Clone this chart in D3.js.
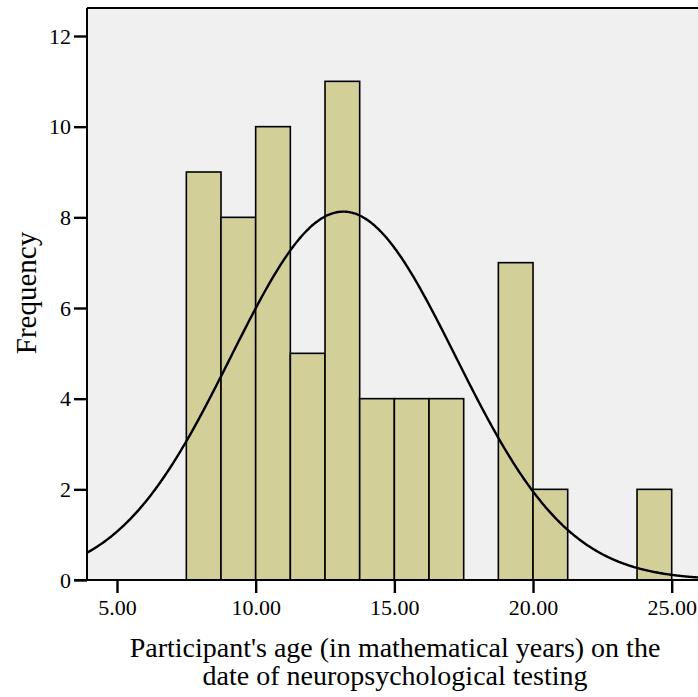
<!DOCTYPE html>
<html>
<head>
<meta charset="utf-8">
<script src="https://cdn.jsdelivr.net/npm/d3@7"></script>
<style>
  body { margin: 0; background: #ffffff; }
  svg { display: block; }
  text { font-family: "Liberation Serif", "Times New Roman", serif; fill: #000; }
</style>
</head>
<body>
<div id="chart"></div>
<script>
// Chart size
var svgWidth = 698;
var svgHeight = 697;

// Histogram bins (lower edge) and counts
var binStarts = [7.5, 8.75, 10.0, 11.25, 12.5, 13.75, 15.0, 16.25, 17.5, 18.75, 20.0, 21.25, 22.5, 23.75];
var binWidth = 1.25;
var counts = [9, 8, 10, 5, 11, 4, 4, 4, 0, 7, 2, 0, 0, 2];

// Normal curve parameters (as reported for the sample)
var meanAge = 13.16;
var sdAge = 4.05;
var nTotal = 66;

// Tick labels
var xTicks = [5, 10, 15, 20, 25];
var yTicks = [0, 2, 4, 6, 8, 10, 12];

var plot = { left: 87, top: 8, bottom: 580, right: 740 };

var svg = d3.select("#chart")
  .append("svg")
  .attr("width", svgWidth)
  .attr("height", svgHeight);

// Scales: 5.00 sits at x=117, 25.00 at x=672
var xScale = d3.scaleLinear()
  .domain([5, 25])
  .range([117, 671.7]);

var yScale = d3.scaleLinear()
  .domain([0, 12])
  .range([plot.bottom, 36]);

// Plot background
svg.append("rect")
  .attr("x", plot.left)
  .attr("y", plot.top)
  .attr("width", plot.right - plot.left)
  .attr("height", plot.bottom - plot.top)
  .attr("fill", "#f0f0f0");

// Bars
var bins = binStarts.map(function(b, i) {
  return { x0: b, x1: b + binWidth, n: counts[i] };
}).filter(function(d) { return d.n > 0; });

svg.append("g")
  .selectAll("rect")
  .data(bins)
  .enter()
  .append("rect")
  .attr("x", d => xScale(d.x0))
  .attr("y", d => yScale(d.n))
  .attr("width", d => xScale(d.x1) - xScale(d.x0))
  .attr("height", d => yScale(0) - yScale(d.n))
  .attr("fill", "#d3cf98")
  .attr("stroke", "#000")
  .attr("stroke-width", 1.6);

// Normal curve
var xLeft = xScale.invert(plot.left);
var xRight = xScale.invert(svgWidth + 5);
var curvePts = d3.range(xLeft, xRight, 0.05).map(function(v) {
  var z = (v - meanAge) / sdAge;
  var h = nTotal * binWidth / (sdAge * Math.sqrt(2 * Math.PI)) * Math.exp(-0.5 * z * z);
  return [v, h];
});

var line = d3.line()
  .x(d => xScale(d[0]))
  .y(d => yScale(d[1]))
  .curve(d3.curveBasis);

svg.append("path")
  .datum(curvePts)
  .attr("d", line)
  .attr("fill", "none")
  .attr("stroke", "#000")
  .attr("stroke-width", 2.4);

// Top frame line
svg.append("line")
  .attr("x1", plot.left).attr("x2", svgWidth)
  .attr("y1", plot.top).attr("y2", plot.top)
  .attr("stroke", "#000").attr("stroke-width", 2);

// Y axis
var leftAxis = d3.axisLeft(yScale)
  .tickValues(yTicks)
  .tickSize(13)
  .tickPadding(3)
  .tickFormat(d3.format("d"));

var yAxis = svg.append("g")
  .attr("transform", `translate(${plot.left}, 0)`)
  .call(leftAxis)
  .attr("font-family", "Liberation Serif")
  .attr("font-size", 22);

yAxis.select(".domain")
  .attr("d", `M0,${plot.top}V${plot.bottom}`)
  .attr("stroke-width", 2);

// X axis
var bottomAxis = d3.axisBottom(xScale)
  .tickValues(xTicks)
  .tickSize(13)
  .tickPadding(6)
  .tickFormat(d3.format(".2f"));

var xAxis = svg.append("g")
  .attr("transform", `translate(0, ${plot.bottom})`)
  .call(bottomAxis)
  .attr("font-family", "Liberation Serif")
  .attr("font-size", 22);

xAxis.select(".domain")
  .attr("d", `M${plot.left - 13},0H${svgWidth}`)
  .attr("stroke-width", 2);

svg.selectAll(".tick line")
  .attr("stroke-width", 2.4);

// Axis titles
svg.append("text")
  .attr("x", 395)
  .attr("y", 657)
  .attr("text-anchor", "middle")
  .style("font-size", "28px")
  .text("Participant's age (in mathematical years) on the");

svg.append("text")
  .attr("x", 395)
  .attr("y", 685)
  .attr("text-anchor", "middle")
  .style("font-size", "28px")
  .text("date of neuropsychological testing");

svg.append("text")
  .attr("transform", "translate(36, 293) rotate(-90)")
  .attr("text-anchor", "middle")
  .style("font-size", "29px")
  .text("Frequency");
</script>
</body>
</html>
